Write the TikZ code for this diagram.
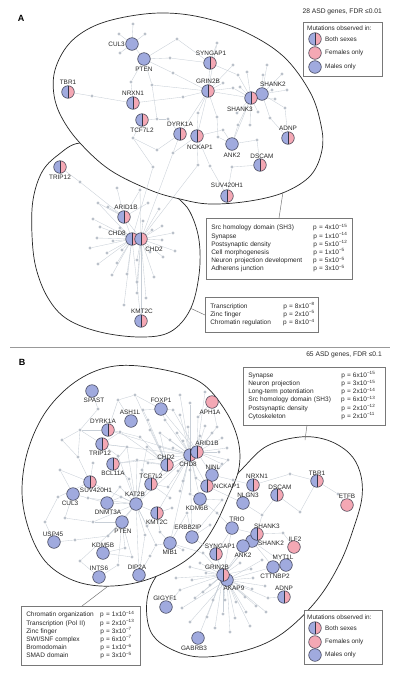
\documentclass[tikz,border=0pt]{standalone}
\usepackage{fontspec}
\setmainfont{Liberation Sans}
\pgfdeclarelayer{bg}\pgfdeclarelayer{ell}\pgfdeclarelayer{edges}\pgfsetlayers{bg,ell,edges,main}
\definecolor{mblue}{RGB}{160,170,222}
\definecolor{fpink}{RGB}{244,168,180}
\definecolor{outl}{RGB}{50,52,70}
\definecolor{dotc}{RGB}{186,193,202}
\definecolor{edgec}{RGB}{200,207,215}
\definecolor{txtc}{RGB}{40,40,40}
\definecolor{boxc}{RGB}{120,120,120}
\newcommand\lblfont{\fontsize{6.4}{7.4}\selectfont}
\newcommand\boxfont{\fontsize{6.5}{8.2}\selectfont}
\begin{document}
\begin{tikzpicture}[x=1pt,y=-1pt,
 gene/.style={circle, draw=outl, line width=0.5pt, minimum size=12.6pt, inner sep=0pt},
 gb/.style={gene, fill=mblue},
 gp/.style={gene, fill=fpink},
 gh/.style={gene, path picture={
   \fill[mblue] (path picture bounding box.south west) rectangle (path picture bounding box.north);
   \fill[fpink] (path picture bounding box.south) rectangle (path picture bounding box.north east);
   \draw[outl, line width=0.5pt] (path picture bounding box.north) -- (path picture bounding box.south);}},
 dot/.style={circle, fill=dotc, minimum size=3.4pt, inner sep=0pt},
 edge/.style={draw=edgec, line width=0.35pt},
 lbl/.style={font=\lblfont, text=txtc, inner sep=0pt},
 ellc/.style={draw=black!85, line width=0.7pt, fill=white},
 infobox/.style={draw=boxc, fill=white, line width=0.5pt, inner xsep=5pt, inner ysep=0pt, font=\boxfont, text=txtc, align=left, anchor=north west},
 legbox/.style={draw=boxc, fill=white, line width=0.5pt, anchor=north west, inner sep=0pt},
 conn/.style={draw=boxc, line width=0.5pt},
 title/.style={font=\fontsize{6.7}{8}\selectfont, text=txtc, inner sep=0pt, anchor=east},
 letter/.style={font=\fontsize{9}{9}\selectfont\bfseries, inner sep=0pt}]
\useasboundingbox (0,0) rectangle (400,675);
\begin{pgfonlayer}{bg}
\fill[white] (0,0) rectangle (400,675);
\end{pgfonlayer}

% ---------- outlines ----------
\begin{pgfonlayer}{ell}
\draw[ellc] plot[smooth cycle, tension=0.6] coordinates {(80,143) (58,155) (42,172) (33,200) (32,235) (36,268) (48,298) (67,319) (100,332) (140,337) (170,332) (190,310) (199,275) (199,240) (190,212) (176,196) (150,170) (115,150)};
\draw[ellc] plot[smooth cycle, tension=0.6] coordinates {(55,70) (68,45) (90,28) (120,18) (160,13) (200,17) (243,31) (283,56) (310,92) (321,125) (322,150) (311,175) (285,192) (250,201) (210,204) (180,199) (150,190) (110,170) (80,143) (62,118) (54,95)};
\draw[ellc] plot[smooth cycle, tension=0.6] coordinates {(157,575) (147,600) (150,630) (167,647) (200,657) (247,650) (283,633) (317,600) (340,563) (354,527) (362,497) (360,472) (349,453) (327,440) (300,437) (267,446) (243,468) (215,500) (185,540)};
\draw[ellc] plot[smooth cycle, tension=0.6] coordinates {(115,366) (160,369) (200,382) (225,410) (238,440) (239,468) (229,495) (214,527) (195,553) (168,571) (135,583) (100,586) (70,579) (45,561) (29,530) (22,492) (28,450) (47,410) (78,380)};
\end{pgfonlayer}

% ---------- panel letters, titles, separator ----------
\node[letter] (pA) at (21,18) {A};
\node[letter] (pB) at (22,362) {B};
\node[title] (tA) at (382,12) {28 ASD genes, FDR ≤0.01};
\node[title] (tB) at (382,355) {65 ASD genes, FDR ≤0.1};
\coordinate (sepL) at (10,347); \coordinate (sepR) at (390,347);
\draw[draw=black!40, line width=0.6pt] (sepL) -- (sepR);

% ---------- panel A dots ----------
\foreach \n/\x/\y in {1/133/24,2/119/34,3/145/34,4/120/53,5/177/39,6/170/58,7/173/73,8/131/82,9/152/85,10/92/96,11/183/97,12/157/119,13/168/119,14/133/138,15/157/150,16/173/153,17/153/167,18/198/165,19/198/113,20/217/117,21/223/130,22/217/43,23/233/65,24/223/83,25/233/88,26/247/72,27/263/75,28/282/74,29/287/90,30/272/90,31/275/99,32/285/108,33/258/112,34/270/118,35/238/125,36/257/140,37/218/137,38/237/113,39/240/87,40/238/75,41/267/65,42/210/166,44/232/167,47/250/125}
  \node[dot] (a\n) at (\x,\y) {};
\foreach \n/\x/\y in {1/80/182,2/140/190,3/117/188,4/98/203,5/108/207,6/148/203,7/159/209,8/93/219,9/100/227,10/143/221,11/162/226,12/97/238,13/113/241,14/120/228,15/152/230,16/173/233,17/162/240,18/90/248,19/107/253,20/122/250,21/150/252,22/175/251,23/163/257,24/98/264,25/117/263,26/137/260,27/127/274,28/137/282,29/154/277,30/112/275,31/137/293,32/124/305,33/146/298}
  \node[dot] (b\n) at (\x,\y) {};

% ---------- panel A genes ----------
\node[gb] (aCUL3) at (132,44) {};
\node[gb] (aPTEN) at (144,59) {};
\node[gh] (aTBR1) at (68,92) {};
\node[gh] (aNRXN1) at (133,103) {};
\node[gh] (aTCF7L2) at (142,120) {};
\node[gh] (aDYRK1A) at (180,134) {};
\node[gh] (aNCKAP1) at (197,136) {};
\node[gh] (aSYNGAP1) at (210,63) {};
\node[gh] (aGRIN2B) at (208,91) {};
\node[gb] (aSHANK2) at (262,94) {};
\node[gh] (aSHANK3) at (251,98) {};
\node[gh] (aADNP) at (288,138) {};
\node[gb] (aANK2) at (232,144) {};
\node[gh] (aDSCAM) at (260,165) {};
\node[gh] (aSUV) at (227,196) {};
\node[gh] (aTRIP12) at (60,167) {};
\node[gh] (aARID1B) at (124,217) {};
\node[gh] (aCHD8) at (132,239) {};
\node[gh] (aCHD2) at (141,239) {};
\node[gh] (aKMT2C) at (141,321) {};

\node[lbl, anchor=east] (laCUL3) at (125,44) {CUL3};
\foreach \nm/\x/\y/\t in {PTEN/144/69/PTEN, TBR1/68/82/TBR1, NRXN1/133/93/NRXN1, TCF7L2/142/130/TCF7L2, DYRK1A/180/124/DYRK1A, NCKAP1/200/147/NCKAP1, SYNGAP1/211/53/SYNGAP1, GRIN2B/208/81/GRIN2B, SHANK3/240/109/SHANK3, SHANK2/273/84/SHANK2, ADNP/288/128/ADNP, ANK2/232/155/ANK2, DSCAM/262/156/DSCAM, SUV/227/185/SUV420H1, TRIP12/60/177/TRIP12, ARID1B/126/207/ARID1B, CHD8/117/233/CHD8, CHD2/154/249/CHD2, KMT2C/142/311/KMT2C}
  \node[lbl] (la\nm) at (\x,\y) {\t};

% ---------- panel A edges ----------
\begin{pgfonlayer}{edges}
\foreach \u/\v in {aCUL3/a1, aCUL3/a2, aCUL3/a3, aCUL3/a4, aCUL3/aPTEN,
 aPTEN/a5, aPTEN/a6, aPTEN/a7, aPTEN/a8, aPTEN/a9,
 aTBR1/a10, a10/aNRXN1, aNRXN1/a8, aNRXN1/a11, a11/aGRIN2B,
 aTCF7L2/a12, a12/a13, a13/aDYRK1A, a9/a12, aTCF7L2/a14, a14/a15, a14/a17, aDYRK1A/a15, aDYRK1A/a16, aDYRK1A/aGRIN2B,
 aGRIN2B/a7, aGRIN2B/a19, aGRIN2B/a20, aGRIN2B/a24, aGRIN2B/a25, aGRIN2B/a22, aGRIN2B/a23, aGRIN2B/aSYNGAP1, aGRIN2B/aNCKAP1, aGRIN2B/aSHANK3, aGRIN2B/a9,
 aSYNGAP1/a5, aSYNGAP1/a6, aSYNGAP1/a22, aSYNGAP1/a40,
 aNCKAP1/a19, aNCKAP1/a16, aNCKAP1/a21, aNCKAP1/a42, aNCKAP1/a18,
 aSHANK3/a26, aSHANK3/a33, aSHANK3/a38, aSHANK3/a39, aSHANK3/a40, aSHANK3/a35, aSHANK3/a25, aSHANK3/a31, aSHANK3/a47, aSHANK3/aANK2,
 aSHANK2/a27, aSHANK2/a28, aSHANK2/a29, aSHANK2/a30, aSHANK2/a32, aSHANK2/a34, aSHANK2/a41,
 aADNP/a34, aADNP/a32, aANK2/a35, aANK2/a37, aANK2/a36, aANK2/a21, aDSCAM/a36, aDSCAM/a44, aSUV/a42, aSUV/a44, a37/a20, a17/aCHD8, a16/aCHD2, a18/aCHD2,
 aTRIP12/b1, b1/aARID1B, aARID1B/b2, aARID1B/b3, aARID1B/b4, aARID1B/b5, aARID1B/b6, aARID1B/aCHD8, aARID1B/aCHD2,
 aCHD8/b4, aCHD8/b8, aCHD8/b9, aCHD8/b12, aCHD8/b13, aCHD8/b14, aCHD8/b18, aCHD8/b19, aCHD8/b20, aCHD8/b24, aCHD8/b25, aCHD8/b27, aCHD8/b30, aCHD8/b32,
 aCHD2/b2, aCHD2/b7, aCHD2/b10, aCHD2/b11, aCHD2/b15, aCHD2/b16, aCHD2/b17, aCHD2/b21, aCHD2/b22, aCHD2/b23, aCHD2/b26, aCHD2/b28, aCHD2/b29, aCHD2/b31, aCHD2/b33,
 aKMT2C/aCHD2, aKMT2C/aCHD8}
  \draw[edge] (\u) -- (\v);
\end{pgfonlayer}

% ---------- panel A boxes ----------
\node[infobox, text width=136pt, minimum height=61pt] (boxA1) at (206,218) {\begin{tabular}{@{}p{102pt}@{}l@{}}
Src homology domain (SH3) & p = 4x10\textsuperscript{−15}\\
Synapse & p = 1x10\textsuperscript{−14}\\
Postsynaptic density & p = 5x10\textsuperscript{−12}\\
Cell morphogenesis & p = 1x10\textsuperscript{−5}\\
Neuron projection development & p = 5x10\textsuperscript{−5}\\
Adherens junction & p = 3x10\textsuperscript{−5}
\end{tabular}};
\node[infobox, text width=103pt, minimum height=35pt] (boxA2) at (205,297) {\begin{tabular}{@{}p{73pt}@{}l@{}}
Transcription & p = 8x10\textsuperscript{−8}\\
Zinc finger & p = 2x10\textsuperscript{−5}\\
Chromatin regulation & p = 8x10\textsuperscript{−4}
\end{tabular}};
\coordinate (cA1e) at (283,192); \coordinate (cA1b) at (279,218);
\draw[conn] (cA1e) -- (cA1b);
\coordinate (cA2e) at (190,308); \coordinate (cA2b) at (205,315);
\draw[conn] (cA2e) -- (cA2b);

% ---------- legend A ----------
\node[legbox, minimum width=79pt, minimum height=54pt] (legA) at (303,22) {};
\node[lbl, anchor=west] (legAt) at (307,28) {Mutations observed in:};
\node[gh] (legAh) at (315,39) {};
\node[lbl, anchor=west] (legAht) at (325,39) {Both sexes};
\node[gp] (legAp) at (315,53) {};
\node[lbl, anchor=west] (legApt) at (325,53) {Females only};
\node[gb] (legAb) at (315,67) {};
\node[lbl, anchor=west] (legAbt) at (325,67) {Males only};

% ---------- panel B dots ----------
\foreach \n/\x/\y in {1/173/410,2/190/403,3/165/420,4/180/415,5/198/417,6/205/426,7/217/427,8/222/438,9/227/448,10/228/460,11/222/464,12/177/433,13/170/440,14/160/433,15/183/441,16/200/436,17/160/447,18/173/448,19/219/452,20/178/471,21/190/470,22/196/478,23/183/481,24/168/487,25/180/491,26/190/494,27/170/498,29/150/430,30/140/437,31/148/420,32/143/410,33/188/427,34/212/433,36/147/447,37/127/447,40/137/460,41/148/463,44/129/479,45/142/470,47/120/487,50/121/497,51/172/508,52/187/513,53/217/513,54/222/500,55/93/463,56/78/457,58/80/430,59/98/409,63/108/536,64/145/535,65/147/526,66/125/548,67/132/557,68/88/498,69/75/540,71/160/532,72/183/550,73/210/525,75/118/565,76/150/556,77/93/522,78/60/470,79/65/518,81/120/432,90/180/395,94/156/545,96/58/497,97/45/522,98/80/561,102/118/456,105/135/395,106/118/400,107/62/440,108/205/392}
  \node[dot] (c\n) at (\x,\y) {};
\foreach \n/\x/\y in {1/203/553,2/200/563,3/206/573,4/210/585,5/203/592,6/213/600,7/225/600,8/236/602,9/245/597,10/252/589,11/253/578,12/251/569,13/240/563,14/207/617,15/223/614,16/235/618,17/246/612,18/256/606,19/215/628,21/190/567,22/192/580,23/195/598,24/182/608,25/190/622,27/265/586,28/262/560,30/290/474,31/338/494,32/233/480,33/283/533,34/262/515,38/268/598,39/180/590,40/300/512,41/176/578,42/230/632,43/250/626,44/266/612}
  \node[dot] (r\n) at (\x,\y) {};

% ---------- panel B genes ----------
\node[gb] (bSPAST) at (92,391) {};
\node[gb] (bFOXP1) at (161,409) {};
\node[gb] (bASH1L) at (131,421) {};
\node[gh] (bDYRK1A) at (108,430) {};
\node[gh] (bTRIP12) at (102,444) {};
\node[gh] (bBCL11A) at (113,464) {};
\node[gh] (bSUV420H1) at (90,482) {};
\node[gb] (bCUL3) at (73,494) {};
\node[gh] (bCHD2) at (167,465) {};
\node[gh] (bTCF7L2) at (151,484) {};
\node[gh] (bCHD8) at (190,455) {};
\node[gh] (bARID1B) at (197,452) {};
\node[gp] (bAPH1A) at (212,402) {};
\node[gb] (bNINL) at (212,475) {};
\node[gh] (bNCKAP1) at (207,486) {};
\node[gb] (bKDM6B) at (200,499) {};
\node[gb] (bKAT2B) at (136,504) {};
\node[gb] (bDNMT3A) at (107,503) {};
\node[gh] (bKMT2C) at (157,513) {};
\node[gb] (bPTEN) at (122,522) {};
\node[gb] (bERBB2IP) at (192,537) {};
\node[gb] (bMIB1) at (170,543) {};
\node[gb] (bUSP45) at (54,542) {};
\node[gb] (bKDM5B) at (103,553) {};
\node[gb] (bINTS6) at (99,577) {};
\node[gb] (bDIP2A) at (139,575) {};
\node[gb] (bGIGYF1) at (166,607) {};
\node[gb] (bGABRB3) at (198,638) {};
\node[gh] (bNRXN1) at (253,485) {};
\node[gh] (bTBR1) at (317,481) {};
\node[gh] (bDSCAM) at (277,495) {};
\node[gp] (bETFB) at (347,505) {};
\node[gb] (bNLGN3) at (243,503) {};
\node[gb] (bTRIO) at (232,528) {};
\node[gb] (bSHANK2) at (252,541) {};
\node[gb] (bANK2) at (243,546) {};
\node[gh] (bSHANK3) at (257,534) {};
\node[gh] (bSYNGAP1) at (216,554) {};
\node[gp] (bILF2) at (294,547) {};
\node[gb] (bMYT1L) at (286,565) {};
\node[gb] (bCTTNBP2) at (273,567) {};
\node[gb] (bAKAP9) at (227,580) {};
\node[gh] (bGRIN2B) at (223,575) {};
\node[gh] (bADNP) at (284,597) {};

\node[lbl, anchor=west] (lbNCKAP1) at (214,486) {NCKAP1};
\node[lbl, anchor=west] (lbSHANK2) at (258,543) {SHANK2};
\foreach \nm/\x/\y in {SPAST/94/400, FOXP1/161/400, ASH1L/130/412, DYRK1A/103/421, TRIP12/100/453, BCL11A/113/473, SUV420H1/96/490, CUL3/70/503, CHD2/166/457, TCF7L2/151/476, CHD8/188/464, ARID1B/207/443, APH1A/210/412, NINL/213/467, KDM6B/197/508, KAT2B/135/494, DNMT3A/108/512, KMT2C/157/522, PTEN/123/531, ERBB2IP/188/527, MIB1/170/552, USP45/53/534, KDM5B/103/545, INTS6/99/568, DIP2A/137/567, GIGYF1/165/598, GABRB3/194/648, NRXN1/257/476, TBR1/317/473, DSCAM/280/487, ETFB/347/496, NLGN3/248/495, TRIO/237/519, SHANK3/267/526, ANK2/243/555, SYNGAP1/220/546, ILF2/295/539, MYT1L/283/557, CTTNBP2/275/576, GRIN2B/217/567, AKAP9/234/588, ADNP/284/588}
  \node[lbl] (lb\nm) at (\x,\y) {\nm};

% ---------- panel B edges ----------
\begin{pgfonlayer}{edges}
\foreach \u/\v in {bCHD8/c2, bCHD8/c4, bCHD8/c12, bCHD8/c13, bCHD8/c14, bCHD8/c15, bCHD8/c17, bCHD8/c18, bCHD8/c20, bCHD8/c21, bCHD8/c22, bCHD8/c23, bCHD8/c24, bCHD8/c25, bCHD8/c26, bCHD8/c33, bCHD8/c3, bCHD8/c90,
 bARID1B/c1, bARID1B/c5, bARID1B/c6, bARID1B/c7, bARID1B/c8, bARID1B/c9, bARID1B/c10, bARID1B/c11, bARID1B/c19, bARID1B/c34, bARID1B/c16, bARID1B/c108,
 bCHD2/c29, bCHD2/c30, bCHD2/c31, bCHD2/c36, bCHD2/c40, bCHD2/c41, bCHD2/c17, bCHD2/c14, bCHD2/c81, bCHD2/c105,
 bKAT2B/c37, bKAT2B/c40, bKAT2B/c44, bKAT2B/c45, bKAT2B/c47, bKAT2B/c50, bKAT2B/c63, bKAT2B/c64, bKAT2B/c65, bKAT2B/c68, bKAT2B/c77, bKAT2B/c36, bKAT2B/c102, bKAT2B/c94,
 bPTEN/c63, bPTEN/c66, bPTEN/c67, bPTEN/c75, bPTEN/c77, bPTEN/c98,
 bTCF7L2/c45, bTCF7L2/c24, bTCF7L2/c27,
 bDYRK1A/c81, bDYRK1A/c58, c81/c30, bTRIP12/c81, bTRIP12/c58, bTRIP12/c37, bTRIP12/c102,
 bBCL11A/c40, bBCL11A/c44, bBCL11A/c37, bBCL11A/c102,
 bSUV420H1/c55, bSUV420H1/c56, bSUV420H1/c78, bSUV420H1/c96,
 bSPAST/c59, c59/c58, c58/c56, c58/c107, c107/c56, c78/bCUL3, bCUL3/c68, bCUL3/c79, c79/c77, c96/c97, c97/bUSP45,
 bUSP45/c69, c69/c63, bINTS6/c75, bDIP2A/c76, bDIP2A/c64, c76/c94, c98/bINTS6,
 bKDM5B/c66, bKDM5B/c67, bMIB1/c71, bMIB1/c72, bMIB1/c52, bMIB1/c94,
 bERBB2IP/c73, bERBB2IP/c52, bERBB2IP/c54, bKMT2C/c51, bKMT2C/c65, bKMT2C/c71,
 bKDM6B/c54, bKDM6B/c26, bKDM6B/c53, bNINL/c10, bNINL/c11, bNCKAP1/c11, bNCKAP1/c22,
 bFOXP1/c32, bFOXP1/c1, bFOXP1/c3, c32/c31, bAPH1A/c7, bAPH1A/c5, bFOXP1/c105, c106/bDYRK1A, c106/c105, bASH1L/c106,
 bDNMT3A/c47, bDNMT3A/c50, bDNMT3A/c68,
 bCHD8/bKAT2B, bCHD8/bCHD2, bARID1B/bCHD2, bCHD8/bTCF7L2, bCHD8/bKMT2C, bCHD8/bNCKAP1, bCHD8/bERBB2IP, bKAT2B/bPTEN, bKAT2B/bDNMT3A, bKAT2B/bKMT2C, bCHD2/bTCF7L2, bCHD8/bBCL11A, bCHD8/bDYRK1A, bARID1B/bFOXP1, bCHD8/bTRIP12, bKAT2B/bTCF7L2, bCHD8/bMIB1, bCHD8/bKDM6B, bARID1B/bNINL, bKAT2B/bSUV420H1, bKAT2B/bDIP2A, bCHD2/bKAT2B,
 bGRIN2B/r1, bGRIN2B/r2, bGRIN2B/r3, bGRIN2B/r4, bGRIN2B/r5, bGRIN2B/r6, bGRIN2B/r7, bGRIN2B/r12, bGRIN2B/r13, bGRIN2B/r21, bGRIN2B/r22, bGRIN2B/r23, bGRIN2B/r14, bGRIN2B/r15, bGRIN2B/r19, bGRIN2B/r41,
 bAKAP9/r8, bAKAP9/r9, bAKAP9/r10, bAKAP9/r11, bAKAP9/r16, bAKAP9/r17, bAKAP9/r18, bAKAP9/r27, bAKAP9/r28, bAKAP9/r24, bAKAP9/r25, bAKAP9/r42, bAKAP9/r43, bAKAP9/r44,
 bGRIN2B/bSYNGAP1, bGRIN2B/bANK2, bGRIN2B/bTRIO, bGRIN2B/bSHANK2, bGRIN2B/bSHANK3, bAKAP9/bCTTNBP2, bAKAP9/r38, r38/bADNP, bGRIN2B/bGABRB3, r39/bGIGYF1, r39/bGRIN2B,
 bNRXN1/r30, r30/bTBR1, bTBR1/r31, r31/bETFB,
 bNRXN1/bNLGN3, bNLGN3/r34, r34/bSHANK3, bDSCAM/r34, bDSCAM/r40, r40/bTBR1,
 bSHANK3/r33, r33/bILF2, bSHANK2/bMYT1L, bCTTNBP2/bSHANK2,
 bTRIO/bSHANK3, bSYNGAP1/bTRIO, bNRXN1/r32, r32/bNINL,
 bSYNGAP1/bERBB2IP, bMIB1/r1, c53/bTRIO, bNLGN3/bNCKAP1}
  \draw[edge] (\u) -- (\v);
\end{pgfonlayer}

% ---------- panel B boxes ----------
\node[infobox, text width=132pt, minimum height=58pt] (boxB1) at (243,367) {\begin{tabular}{@{}p{93pt}@{}l@{}}
Synapse & p = 6x10\textsuperscript{−15}\\
Neuron projection & p = 3x10\textsuperscript{−15}\\
Long-term potentiation & p = 2x10\textsuperscript{−14}\\
Src homology domain (SH3) & p = 6x10\textsuperscript{−13}\\
Postsynaptic density & p = 2x10\textsuperscript{−12}\\
Cytoskeleton & p = 2x10\textsuperscript{−11}
\end{tabular}};
\node[infobox, text width=109pt, minimum height=59pt] (boxB2) at (21,606) {\begin{tabular}{@{}p{74pt}@{}l@{}}
Chromatin organization & p = 1x10\textsuperscript{−14}\\
Transcription (Pol II) & p = 2x10\textsuperscript{−13}\\
Zinc finger & p = 3x10\textsuperscript{−7}\\
SWI/SNF complex & p = 6x10\textsuperscript{−7}\\
Bromodomain & p = 1x10\textsuperscript{−6}\\
SMAD domain & p = 3x10\textsuperscript{−5}
\end{tabular}};
\coordinate (cB1e) at (305,440); \coordinate (cB1b) at (307,425);
\draw[conn] (cB1b) -- (cB1e);
\coordinate (cB2e) at (107,587); \coordinate (cB2b) at (82,606);
\draw[conn] (cB2e) -- (cB2b);

% ---------- legend B ----------
\node[legbox, minimum width=78pt, minimum height=54pt] (legB) at (304,610) {};
\node[lbl, anchor=west] (legBt) at (307,617) {Mutations observed in:};
\node[gh] (legBh) at (315,628) {};
\node[lbl, anchor=west] (legBht) at (325,628) {Both sexes};
\node[gp] (legBp) at (315,642) {};
\node[lbl, anchor=west] (legBpt) at (325,642) {Females only};
\node[gb] (legBb) at (315,655) {};
\node[lbl, anchor=west] (legBbt) at (325,655) {Males only};
\end{tikzpicture}
\end{document}
